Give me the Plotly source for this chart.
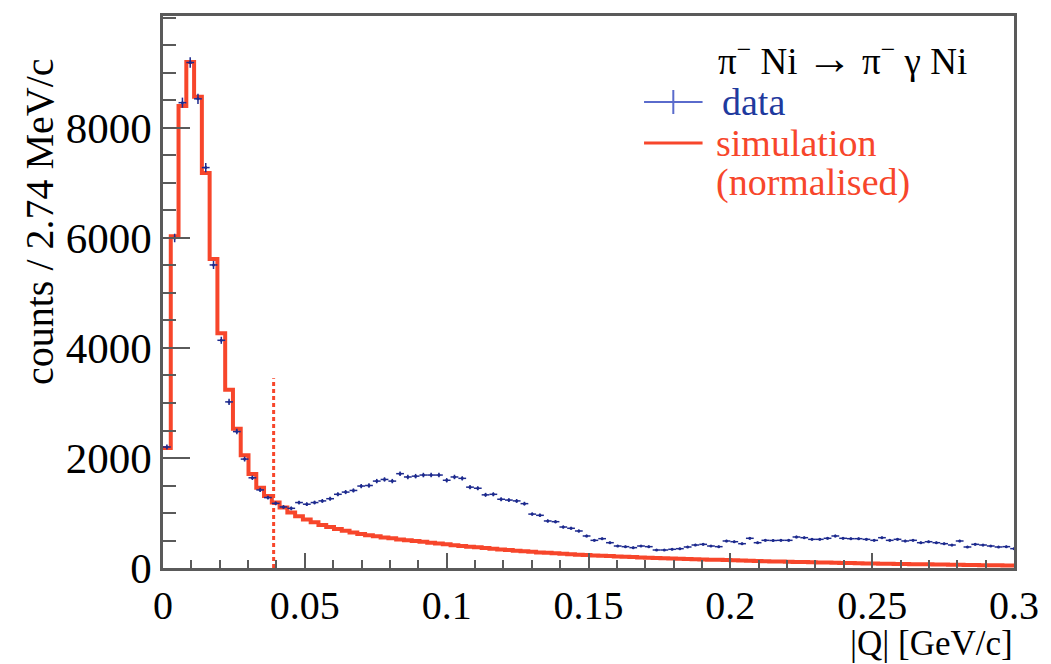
import numpy as np
import plotly.graph_objects as go

# |Q| histogram, bin width 2.74 MeV/c, range 0 - 0.3 GeV/c
BIN_WIDTH = 0.00274
Q_MIN, Q_MAX = 0.0, 0.3
Y_MAX = 10036
Q_CUT = 0.039
CUT_HEIGHT = 3450

data_counts = [
    2200, 6000, 8460, 9190, 8530, 7280, 5510, 4140, 3020, 2480,
    1980, 1640, 1420, 1280, 1175, 1110, 1085, 1190, 1160, 1190,
    1220, 1260, 1340, 1380, 1410, 1490, 1500, 1580, 1610, 1580,
    1715, 1655, 1670, 1690, 1690, 1690, 1595, 1655, 1630, 1470,
    1450, 1330, 1340, 1250, 1235, 1220, 1170, 980, 958, 855,
    842, 745, 722, 673, 582, 503, 533, 460, 400, 388,
    370, 400, 388, 327, 327, 340, 351, 382, 418, 430,
    400, 388, 491, 478, 442, 540, 460, 503, 500, 503,
    503, 564, 551, 521, 521, 540, 582, 540, 533, 533,
    521, 503, 551, 503, 521, 491, 503, 460, 478, 460,
    442, 418, 491, 382, 430, 418, 400, 382, 388, 352,
]

sim_counts = [
    2180, 6030, 8400, 9200, 8570, 7180, 5620, 4270, 3240, 2530,
    2050, 1710, 1460, 1310, 1190, 1100, 1010, 940, 880, 830,
    780, 745, 710, 675, 645, 620, 595, 575, 555, 540,
    520, 505, 490, 475, 460, 445, 430, 415, 400, 388,
    375, 362, 350, 338, 326, 315, 304, 294, 284, 275,
    266, 258, 250, 243, 236, 229, 222, 216, 210, 204,
    198, 193, 188, 183, 178, 173, 168, 164, 160, 156,
    152, 148, 144, 140, 136, 132, 128, 124, 120, 116,
    113, 110, 107, 104, 101, 98, 95, 92, 89, 86,
    83, 80, 78, 76, 74, 72, 70, 68, 66, 64,
    62, 60, 58, 56, 54, 52, 50, 48, 46, 44,
]

x_ticks = [0, 0.05, 0.1, 0.15, 0.2, 0.25, 0.3]
x_tick_labels = ["0", "0.05", "0.1", "0.15", "0.2", "0.25", "0.3"]
y_ticks = [0, 2000, 4000, 6000, 8000]
y_tick_labels = ["0", "2000", "4000", "6000", "8000"]

RED = "#f7462b"
NAVY = "#1d2a8e"
BLUE_LEG = "#5a6bcc"
AXIS_GREY = "#5a5a5a"
FONT = "Liberation Serif"

n_bins = len(data_counts)
edges = np.arange(n_bins + 1) * BIN_WIDTH
centres = edges[:-1] + BIN_WIDTH / 2
data_arr = np.array(data_counts, dtype=float)
sim_arr = np.array(sim_counts, dtype=float)

fig = go.Figure()

# simulation as a step histogram
step_x = np.append(edges[:-1], min(edges[-1], Q_MAX))
step_y = np.append(sim_arr, sim_arr[-1])
fig.add_trace(go.Scatter(
    x=step_x, y=step_y, mode="lines", line_shape="hv",
    line=dict(color=RED, width=4), showlegend=False, hoverinfo="skip",
))

# cut position
fig.add_trace(go.Scatter(
    x=[Q_CUT, Q_CUT], y=[0, CUT_HEIGHT], mode="lines",
    line=dict(color=RED, width=3, dash="4px,3px"),
    showlegend=False, hoverinfo="skip",
))

# data points with bin-width and Poisson error bars
fig.add_trace(go.Scatter(
    x=centres, y=data_arr, mode="markers",
    marker=dict(color=NAVY, size=3, symbol="circle"),
    error_x=dict(type="constant", value=BIN_WIDTH / 2, color=NAVY, thickness=1.5, width=0),
    error_y=dict(type="data", array=np.sqrt(data_arr), color=NAVY, thickness=1.5, width=0),
    showlegend=False,
))

L, R, T, B = 163, 30, 16, 96
W, H = 1051, 664
pw, ph = W - L - R, H - T - B


def px(xp):
    return (xp - L) / pw


def py(yp):
    return (H - B - yp) / ph


title_text = ("π<sup>−</sup> Ni <span style=\"font-size:46px\">→</span> "
              "π<sup>−</sup> γ Ni")

annotations = [
    dict(text="counts / 2.74 MeV/c", x=px(38), y=py(222), xref="paper", yref="paper",
         textangle=-90, showarrow=False, font=dict(family=FONT, size=40, color="black"),
         xanchor="center", yanchor="middle"),
    dict(text="|Q| [GeV/c]", x=1.0, y=py(663.5), xref="paper", yref="paper",
         showarrow=False, font=dict(family=FONT, size=35, color="black"),
         xanchor="right", yanchor="bottom", borderpad=0),
    dict(text=title_text, x=px(721), y=py(58), xref="paper", yref="paper",
         showarrow=False, font=dict(family=FONT, size=37, color="black"),
         xanchor="left", yanchor="middle"),
    dict(text="data", x=px(725), y=py(102), xref="paper", yref="paper",
         showarrow=False, font=dict(family=FONT, size=38, color="#1f3a9e"),
         xanchor="left", yanchor="middle"),
    dict(text="simulation", x=px(719), y=py(143), xref="paper", yref="paper",
         showarrow=False, font=dict(family=FONT, size=38, color=RED),
         xanchor="left", yanchor="middle"),
    dict(text="(normalised)", x=px(719), y=py(182), xref="paper", yref="paper",
         showarrow=False, font=dict(family=FONT, size=38, color=RED),
         xanchor="left", yanchor="middle"),
]

shapes = [
    # legend symbols
    dict(type="line", xref="paper", yref="paper", x0=px(648), x1=px(707), y0=py(102), y1=py(102),
         line=dict(color=BLUE_LEG, width=2)),
    dict(type="line", xref="paper", yref="paper", x0=px(677.5), x1=px(677.5), y0=py(90), y1=py(114),
         line=dict(color=BLUE_LEG, width=2)),
    dict(type="line", xref="paper", yref="paper", x0=px(648), x1=px(707), y0=py(143), y1=py(143),
         line=dict(color=RED, width=3)),
]

fig.update_layout(
    width=W, height=H,
    margin=dict(l=L, r=R, t=T, b=B),
    paper_bgcolor="white", plot_bgcolor="white",
    annotations=annotations, shapes=shapes,
    showlegend=False,
    font=dict(family=FONT, color="black"),
)

fig.update_xaxes(
    range=[Q_MIN, Q_MAX], tickvals=x_ticks, ticktext=x_tick_labels,
    ticks="inside", ticklen=15, tickwidth=2, tickcolor=AXIS_GREY,
    minor=dict(dtick=0.01, tick0=0, ticks="inside", ticklen=8, tickwidth=2, tickcolor=AXIS_GREY),
    showline=True, linecolor=AXIS_GREY, linewidth=2.5, mirror=True,
    showgrid=False, zeroline=False,
    tickfont=dict(family=FONT, size=40, color="black"),
    ticklabelstandoff=0,
)
fig.update_yaxes(
    range=[0, Y_MAX], tickvals=y_ticks, ticktext=y_tick_labels,
    ticks="inside", ticklen=27, tickwidth=2, tickcolor=AXIS_GREY,
    minor=dict(dtick=500, tick0=0, ticks="inside", ticklen=13, tickwidth=2, tickcolor=AXIS_GREY),
    showline=True, linecolor=AXIS_GREY, linewidth=2.5, mirror=True,
    showgrid=False, zeroline=False,
    tickfont=dict(family=FONT, size=43, color="black"),
    ticklabelstandoff=0,
)

fig.write_html("out.html")
